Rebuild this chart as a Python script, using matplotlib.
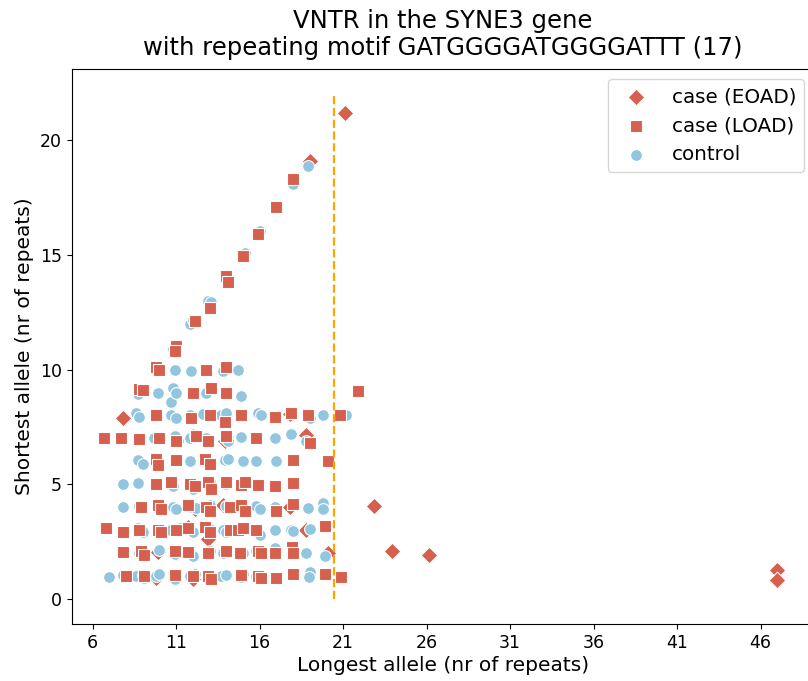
import numpy as np
import matplotlib.pyplot as plt

# values (allele lengths, with the slight jitter seen there)
control_x = [6.95, 7.8, 8.6, 9.0, 9.1, 9.8, 10.0, 10.9, 11.0, 11.8, 12.1, 13.0, 13.7, 14.0, 14.9, 15.0, 15.8, 19.0, 18.95,
             8.8, 9.0, 10.0, 10.9, 11.8, 12.0, 13.0, 13.8, 14.0, 15.0, 15.8, 16.9, 18.0, 18.8, 19.9,
             8.7, 9.0, 10.6, 11.2, 12.0, 13.0, 13.8, 14.0, 15.8, 16.0, 16.9, 17.9, 18.0, 19.0,
             7.8, 8.8, 10.8, 11.0, 11.9, 12.2, 13.0, 14.0, 14.8, 15.8, 16.0, 16.9, 18.9, 19.8, 19.8,
             7.8, 8.7, 10.8, 11.8, 12.0, 13.0, 14.0, 14.8, 15.0,
             8.7, 9.0, 10.9, 11.8, 12.9, 13.9, 14.1, 15.0, 15.8, 17.0,
             9.7, 10.9, 11.1, 11.8, 12.1, 12.8, 13.9, 14.1, 14.9, 16.9, 17.9, 18.8,
             8.6, 8.8, 10.7, 11.0, 11.8, 12.6, 13.1, 13.7, 14.0, 14.8, 15.9, 16.1, 19.0, 19.8, 21.2,
             8.7, 9.9, 10.8, 10.7, 11.0, 12.8, 14.9,
             10.9, 11.9, 13.8, 14.7, 9.9,
             11.0, 10.8, 11.8, 12.0, 12.9, 13.1, 13.9, 15.0, 15.1, 16.0, 18.0, 18.9]
control_y = [0.97, 1.05, 0.98, 1.05, 0.9, 1.0, 1.1, 0.85, 1.05, 1.0, 1.1, 0.95, 1.0, 1.05, 0.95, 1.1, 1.0, 1.17, 0.95,
             2.0, 1.9, 2.15, 1.95, 2.05, 1.85, 2.1, 2.0, 2.15, 2.0, 2.1, 2.2, 2.0, 2.0, 1.85,
             3.1, 2.9, 3.0, 3.1, 2.9, 3.05, 3.0, 2.9, 3.0, 2.8, 3.0, 3.0, 2.95, 3.04,
             4.0, 4.05, 4.0, 3.9, 4.0, 3.95, 4.1, 4.05, 4.0, 4.05, 3.9, 4.0, 3.96, 4.2, 3.9,
             5.0, 5.05, 4.9, 5.0, 4.8, 5.1, 5.0, 5.0, 4.9,
             6.05, 5.9, 6.1, 6.0, 5.9, 6.05, 6.1, 6.0, 6.0, 6.0,
             7.0, 7.1, 6.9, 7.0, 7.1, 7.0, 7.0, 6.9, 7.05, 7.0, 7.2, 6.9,
             8.1, 7.95, 8.0, 7.9, 8.0, 8.05, 8.0, 8.0, 8.1, 8.0, 8.1, 8.0, 7.9, 8.0, 8.0,
             8.95, 9.0, 9.2, 8.6, 9.0, 9.0, 8.83,
             10.0, 9.95, 9.95, 10.0, 10.0,
             11.0, 10.9, 12.0, 12.15, 13.0, 12.95, 14.0, 15.0, 15.1, 16.05, 18.1, 18.9]

load_x = [8.0, 9.1, 10.9, 12.0, 12.9, 13.1, 14.9, 15.9, 16.1, 17.0, 18.0, 19.9, 20.9,
          7.8, 8.9, 9.1, 10.9, 11.7, 12.9, 14.0, 14.8, 15.9, 16.1, 16.9, 17.95, 18.0,
          6.8, 7.8, 8.8, 9.9, 10.1, 11.0, 11.7, 12.7, 13.0, 14.2, 14.7, 15.0, 15.8, 19.9,
          8.9, 9.9, 10.1, 11.7, 12.8, 13.0, 14.2, 14.9, 15.1, 17.0, 18.0,
          9.8, 10.7, 11.8, 12.1, 12.9, 13.1, 14.0, 14.9, 15.1, 15.9, 16.9, 18.0,
          9.8, 9.9, 11.0, 12.7, 13.0, 18.0, 20.1,
          6.7, 7.7, 8.8, 10.0, 11.0, 12.2, 12.9, 14.0, 15.8, 19.0,
          9.8, 11.9, 13.9, 13.0, 14.9, 16.9, 17.9, 18.9, 20.8,
          8.8, 12.0, 13.1, 14.0, 21.9,
          9.8, 10.0, 12.8, 14.0,
          9.0, 11.0, 10.9, 12.1, 13.0, 14.0, 14.1, 15.0, 15.9, 17.0, 18.0]
load_y = [1.0, 1.0, 1.05, 1.0, 1.0, 0.85, 1.05, 1.0, 0.9, 0.9, 1.08, 1.09, 0.95,
          2.05, 2.1, 1.9, 2.1, 2.05, 2.0, 2.1, 2.0, 2.1, 2.0, 2.0, 2.26, 2.0,
          3.1, 2.9, 3.0, 3.0, 2.9, 3.0, 3.1, 3.15, 2.9, 3.0, 3.0, 3.1, 3.0, 3.19,
          4.0, 4.1, 3.9, 4.1, 4.0, 3.85, 4.0, 4.1, 3.85, 3.85, 4.13,
          5.0, 5.1, 5.0, 4.9, 5.1, 4.8, 5.1, 4.95, 5.1, 4.95, 4.9, 5.05,
          6.1, 5.85, 6.05, 6.1, 5.9, 6.07, 6.0,
          7.0, 7.0, 6.95, 7.0, 6.9, 7.1, 6.9, 7.1, 7.0, 6.8,
          8.0, 7.9, 7.7, 8.0, 8.0, 7.95, 8.1, 8.0, 8.0,
          9.15, 9.0, 9.2, 9.0, 9.05,
          10.1, 10.0, 10.0, 10.1,
          9.1, 11.05, 10.8, 12.1, 12.7, 14.1, 13.8, 14.95, 15.9, 17.1, 18.3]

eoad_x = [7.8, 9.8, 12.0, 9.9, 11.7, 12.9, 13.8, 17.8, 18.8, 20.1, 18.8, 17.8, 13.9, 12.1, 11.0,
          21.1, 22.86, 23.94, 26.15, 47.0, 47.0, 19.0, 14.0, 12.0]
eoad_y = [7.9, 0.9, 0.85, 2.05, 3.15, 2.6, 4.1, 4.0, 3.0, 2.0, 7.15, 8.05, 6.9, 3.9, 2.0,
          21.2, 4.07, 2.1, 1.9, 1.24, 0.83, 19.1, 7.05, 7.1]

threshold = 20.45  # dashed cut-off line

red = '#d6604d'
blue = '#92c5de'

fig = plt.figure(figsize=(8.08, 6.81), dpi=100)
ax = fig.add_axes([0.0887, 0.0837, 0.9187, 0.8145])

kw = dict(s=72, edgecolors='white', linewidths=0.8)
h_eoad = ax.scatter(eoad_x, eoad_y, marker='D', color=red, label='case (EOAD)', **kw)
h_ctrl = ax.scatter(control_x, control_y, marker='o', color=blue, label='control', **kw)
h_load = ax.scatter(load_x, load_y, marker='s', color=red, label='case (LOAD)', **kw)

ax.vlines(threshold, 0, 22, colors='orange', linestyles='--', linewidth=1.6)

ax.set_xlim(4.74, 49.2)
ax.set_ylim(-1.1, 23.1)
ax.set_xticks(np.arange(6, 47, 5))
ax.set_yticks([0, 5, 10, 15, 20])
ax.tick_params(labelsize=12.5)

ax.set_xlabel('Longest allele (nr of repeats)', fontsize=14.5, labelpad=3)
ax.set_ylabel('Shortest allele (nr of repeats)', fontsize=14.5)
ax.set_title('VNTR in the SYNE3 gene\nwith repeating motif GATGGGGATGGGGATTT (17)', fontsize=17.5, pad=10)

ax.legend(handles=[h_eoad, h_load, h_ctrl], loc='upper right', fontsize=14.3)

fig.savefig('out.png', dpi=100)
